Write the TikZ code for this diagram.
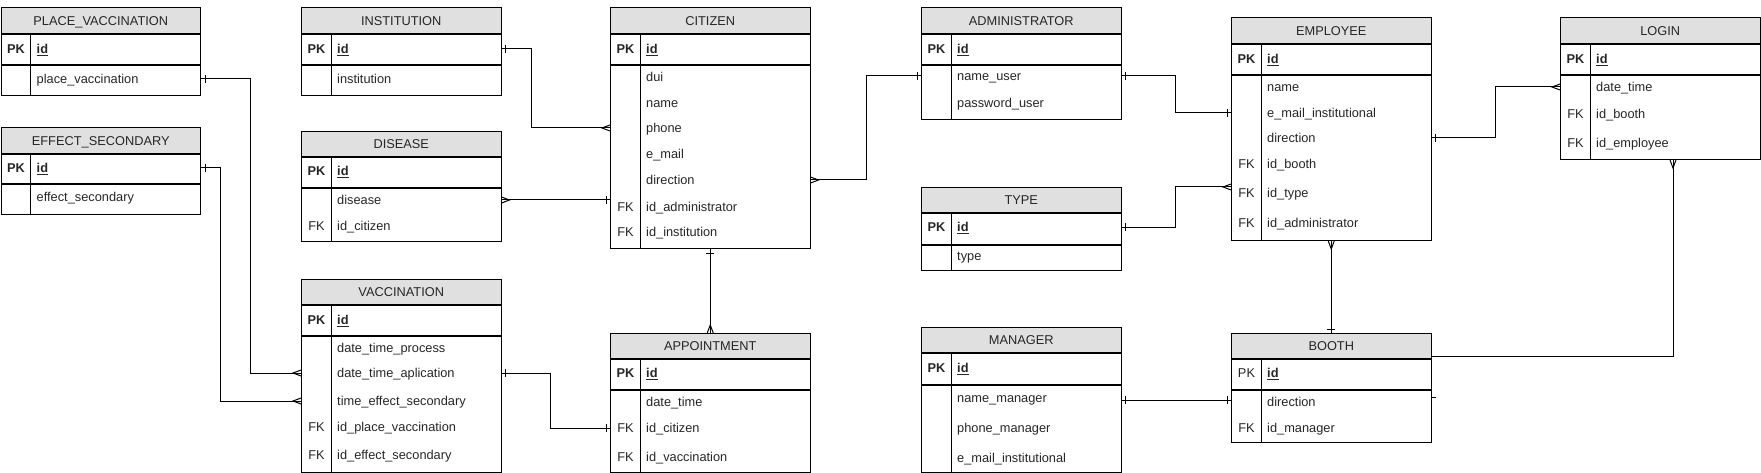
\documentclass[tikz,border=0pt]{standalone}
\usepackage{fontspec}
\setmainfont{Liberation Sans}
\definecolor{hdrgray}{HTML}{E0E0E0}
\definecolor{txt}{HTML}{262626}
\newcommand{\tfont}{\fontsize{12.8}{15}\selectfont}
\newcommand{\pkid}{\underline{\textbf{id}}}
\tikzset{
  hdr/.style={draw, fill=hdrgray, anchor=north west, minimum width=199.5pt, inner sep=0pt, line width=1pt, font=\tfont, text=txt, text height=9.2pt, text depth=0pt},
  bx/.style={draw, anchor=north west, minimum width=199.5pt, inner sep=0pt, line width=1pt},
  keyst/.style={anchor=center, inner sep=0pt, font=\tfont, text=txt, text height=9.2pt, text depth=0pt},
  fldst/.style={anchor=west, inner sep=0pt, font=\tfont, text=txt, text height=9.2pt, text depth=0pt},
  con/.style={draw, line width=1pt},
  oneE/.pic={\draw[con] (4,-4) -- (4,4);},
  oneW/.pic={\draw[con] (-4,-4) -- (-4,4);},
  oneS/.pic={\draw[con] (-4,4) -- (4,4);},
  oneN/.pic={\draw[con] (-4,-4) -- (4,-4);},
  manyE/.pic={\draw[con] (0,-3) -- (8,0) -- (0,3);},
  manyW/.pic={\draw[con] (0,-3) -- (-8,0) -- (0,3);},
  manyS/.pic={\draw[con] (-3,0) -- (0,8) -- (3,0);},
  manyN/.pic={\draw[con] (-3,0) -- (0,-8) -- (3,0);}
}
% #1 name, #2 x, #3 top, #4 title, #5 header h, #6 pk h, #7 body h
\newcommand{\ertab}[7]{%
  \node[hdr, minimum height=#5pt] (#1) at (#2,#3) {#4};
  \node[bx, minimum height=#6pt] (#1pk) at (#1.south west) {};
  \node[bx, minimum height=#7pt] (#1b) at (#1pk.south west) {};
  \draw[line width=1pt] ([xshift=30pt]#1pk.north west) -- ([xshift=30pt]#1b.south west);
}
\newcommand{\fld}[5]{%
  \node[keyst] (#1k) at ({#2+15.5},#3) {#4};
  \node[fldst] (#1) at ({#2+36},#3) {#5};
}
\newcommand{\fldn}[4]{%
  \node[fldst] (#1) at ({#2+36},#3) {#4};
}
\begin{document}
\begin{tikzpicture}[x=1pt,y=-1pt]
\useasboundingbox (0,0) rectangle (1761,473);
% tables
\ertab{pv}{0.5}{7}{PLACE\_VACCINATION}{26}{30}{30}
\fld{pv1}{0.5}{49}{\textbf{PK}}{\pkid}
\fldn{pv2}{0.5}{79}{place\_vaccination}

\ertab{es}{0.5}{127}{EFFECT\_SECONDARY}{26}{29}{30}
\fld{es1}{0.5}{168}{\textbf{PK}}{\pkid}
\fldn{es2}{0.5}{197}{effect\_secondary}

\ertab{in}{301}{7}{INSTITUTION}{26}{30}{30}
\fld{in1}{301}{49}{\textbf{PK}}{\pkid}
\fldn{in2}{301}{79}{institution}

\ertab{di}{301}{131}{DISEASE}{25}{30}{53}
\fld{di1}{301}{171}{\textbf{PK}}{\pkid}
\fldn{di2}{301}{200}{disease}
\fld{di3}{301}{226}{FK}{id\_citizen}

\ertab{va}{301}{279}{VACCINATION}{25}{30}{135.5}
\fld{va1}{301}{320}{\textbf{PK}}{\pkid}
\fldn{va2}{301}{348}{date\_time\_process}
\fldn{va3}{301}{373}{date\_time\_aplication}
\fldn{va4}{301}{401}{time\_effect\_secondary}
\fld{va5}{301}{427}{FK}{id\_place\_vaccination}
\fld{va6}{301}{455}{FK}{id\_effect\_secondary}

\ertab{ci}{610}{7}{CITIZEN}{26}{30}{183}
\fld{ci1}{610}{49}{\textbf{PK}}{\pkid}
\fldn{ci2}{610}{77}{dui}
\fldn{ci3}{610}{103}{name}
\fldn{ci4}{610}{128}{phone}
\fldn{ci5}{610}{154}{e\_mail}
\fldn{ci6}{610}{180}{direction}
\fld{ci7}{610}{207}{FK}{id\_administrator}
\fld{ci8}{610}{232}{FK}{id\_institution}

\ertab{ap}{610}{333}{APPOINTMENT}{25}{30}{81.5}
\fld{ap1}{610}{373}{\textbf{PK}}{\pkid}
\fldn{ap2}{610}{402}{date\_time}
\fld{ap3}{610}{428}{FK}{id\_citizen}
\fld{ap4}{610}{457}{FK}{id\_vaccination}

\ertab{ad}{921}{7}{ADMINISTRATOR}{26}{30}{54}
\fld{ad1}{921}{49}{\textbf{PK}}{\pkid}
\fldn{ad2}{921}{76}{name\_user}
\fldn{ad3}{921}{103}{password\_user}

\ertab{ty}{921}{187}{TYPE}{25}{31}{25}
\fld{ty1}{921}{227}{\textbf{PK}}{\pkid}
\fldn{ty2}{921}{256}{type}

\ertab{mg}{921}{327}{MANAGER}{25}{31}{86.5}
\fld{mg1}{921}{368}{\textbf{PK}}{\pkid}
\fldn{mg2}{921}{398}{name\_manager}
\fldn{mg3}{921}{428}{phone\_manager}
\fldn{mg4}{921}{458}{e\_mail\_institutional}

\ertab{em}{1231}{17}{EMPLOYEE}{26}{30}{165}
\fld{em1}{1231}{59}{\textbf{PK}}{\pkid}
\fldn{em2}{1231}{87}{name}
\fldn{em3}{1231}{113}{e\_mail\_institutional}
\fldn{em4}{1231}{138}{direction}
\fld{em5}{1231}{164}{FK}{id\_booth}
\fld{em6}{1231}{193}{FK}{id\_type}
\fld{em7}{1231}{223}{FK}{id\_administrator}

\ertab{bo}{1231}{333}{BOOTH}{25}{30}{52}
\fld{bo1}{1231}{373}{PK}{\pkid}
\fldn{bo2}{1231}{402}{direction}
\fld{bo3}{1231}{428}{FK}{id\_manager}

\ertab{lo}{1560}{17}{LOGIN}{26}{30}{84}
\fld{lo1}{1560}{59}{\textbf{PK}}{\pkid}
\fldn{lo2}{1560}{87}{date\_time}
\fld{lo3}{1560}{114}{FK}{id\_booth}
\fld{lo4}{1560}{143}{FK}{id\_employee}

% bend coordinates
\coordinate (bendA) at (250,0);
\coordinate (bendB) at (220,0);
\coordinate (bendC) at (531,0);
\coordinate (bendD) at (866,0);
\coordinate (bendE) at (550,0);
\coordinate (bendF) at (1175,0);
\coordinate (bendG) at (1495,0);
\coordinate (rowT) at (0,187);
\coordinate (rowM) at (0,400);
\coordinate (pLog) at (1673,356);
\coordinate (rowS) at (0,397);

% connectors
\draw[con] (pvb.east |- pv2) -| (bendA |- va3) -- (vab.west |- va3);
\pic at (pvb.east |- pv2) {oneE}; \pic at (vab.west |- va3) {manyW};

\draw[con] (espk.east |- es1) -| (bendB |- va4) -- (vab.west |- va4);
\pic at (espk.east |- es1) {oneE}; \pic at (vab.west |- va4) {manyW};

\draw[con] (inpk.east |- in1) -| (bendC |- ci4) -- (cib.west |- ci4);
\pic at (inpk.east |- in1) {oneE}; \pic at (cib.west |- ci4) {manyW};

\draw[con] (dib.east |- di2) -- (cib.west |- di2);
\pic at (dib.east |- di2) {manyE}; \pic at (cib.west |- di2) {oneW};

\draw[con] (cib.east |- ci6) -| (bendD |- ad2) -- (adb.west |- ad2);
\pic at (cib.east |- ci6) {manyE}; \pic at (adb.west |- ad2) {oneW};

\draw[con] (cib.south) -- (ap.north);
\pic at (cib.south) {oneS}; \pic at (ap.north) {manyN};

\draw[con] (vab.east |- va3) -| (bendE |- ap3) -- (apb.west |- ap3);
\pic at (vab.east |- va3) {oneE}; \pic at (apb.west |- ap3) {oneW};

\draw[con] (adb.east |- ad2) -| (bendF |- em3) -- (emb.west |- em3);
\pic at (adb.east |- ad2) {oneE}; \pic at (emb.west |- em3) {oneW};

\draw[con] (typk.east |- ty1) -| (bendF |- rowT) -- (emb.west |- rowT);
\pic at (typk.east |- ty1) {oneE}; \pic at (emb.west |- rowT) {manyW};

\draw[con] (emb.south) -- (bo.north);
\pic at (emb.south) {manyS}; \pic at (bo.north) {oneN};

\draw[con] (mgb.east |- rowM) -- (bob.west |- rowM);
\pic at (mgb.east |- rowM) {oneE}; \pic at (bob.west |- rowM) {oneW};

\draw[con] (emb.east |- em4) -| (bendG |- lo2) -- (lob.west |- lo2);
\pic at (emb.east |- em4) {oneE}; \pic at (lob.west |- lo2) {manyW};

\draw[con] (lob.south -| pLog) -- (pLog) -- (bo.east |- pLog);
\pic at (lob.south -| pLog) {manyS};

\draw[con] (bob.east |- rowS) -- ++(4,0);
\end{tikzpicture}
\end{document}
